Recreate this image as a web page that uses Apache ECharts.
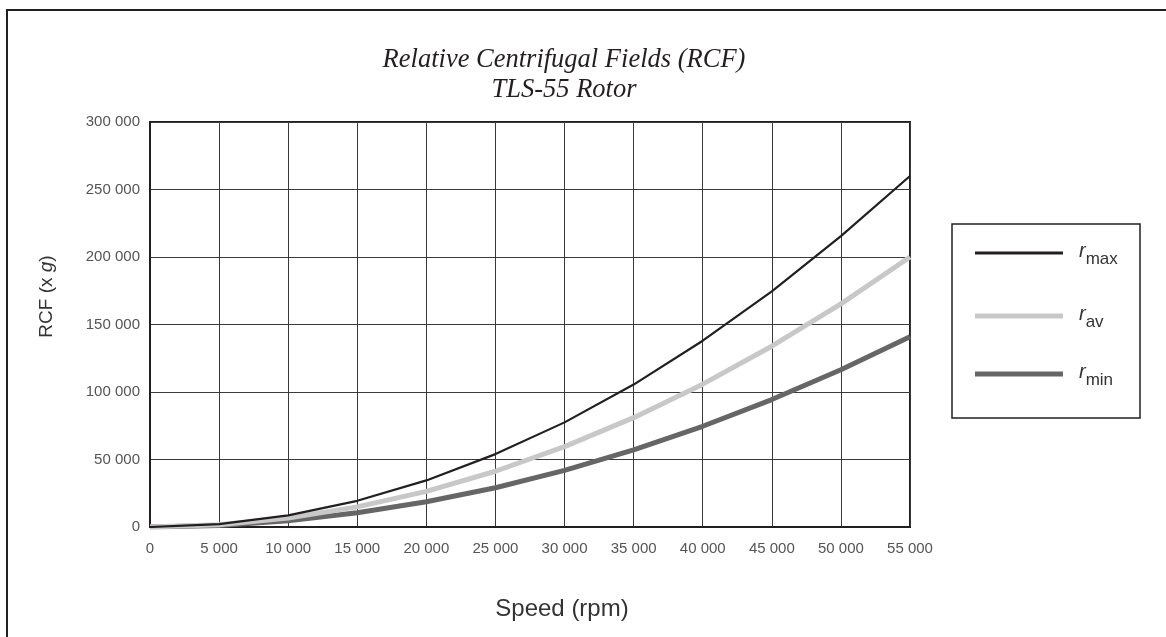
<!DOCTYPE html>
<html><head><meta charset="utf-8">
<script src="https://cdn.jsdelivr.net/npm/echarts@6/dist/echarts.min.js"></script>
<style>html,body{margin:0;padding:0;background:#fff}#c{width:1166px;height:637px}</style>
</head><body><div id="c"></div>
<script>
const speeds = [0,5000,10000,15000,20000,25000,30000,35000,40000,45000,50000,55000];
const rMax = [0,2100,8600,19400,34500,54000,77500,105500,138000,174500,215500,260000];
const rAv  = [0,1650,6600,14900,26400,41300,59500,81000,105800,133900,165300,200000];
const rMin = [0,1170,4660,10500,18650,29100,42000,57100,74600,94400,116500,141000];
const seriesNames = ['max','av','min'];
const fmt = v => { if (v === 0) return '0'; const s = String(v); return s.slice(0, s.length-3) + ' ' + s.slice(-3); };
const pairs = arr => speeds.map((x,i)=>[x, arr[i]]);
const chart = echarts.init(document.getElementById('c'));
const font = "'Liberation Sans', Arial, sans-serif";
const legendText = {rich:{
  i:{fontFamily:font, fontStyle:'italic', fontSize:20, color:'#333', padding:[0,0,4,11]},
  s:{fontFamily:font, fontSize:17, color:'#333', padding:[12,0,0,0]}}};
const mkLegend = (name, top, h, color) => ({
  orient:'vertical', left:970, top:top, itemWidth:88, itemHeight:h, icon:'rect',
  data:[{name:name, itemStyle:{color:color}}],
  formatter: n => '{i|r}{s|' + n + '}', textStyle:legendText});
chart.setOption({
  animation:false,
  backgroundColor:'#fff',
  title:{text:'Relative Centrifugal Fields (RCF)\nTLS-55 Rotor', left:559, top:40, textAlign:'center',
    textStyle:{fontFamily:"'Liberation Serif', 'Times New Roman', serif", fontStyle:'italic', fontWeight:'normal', fontSize:26.5, lineHeight:30, color:'#231f20'}},
  grid:{left:150, right:256, top:122, bottom:110, show:true, borderColor:'#231f20', borderWidth:2, backgroundColor:'transparent'},
  xAxis:{type:'value', min:0, max:55000, interval:5000,
    name:'Speed (rpm)', nameLocation:'middle', nameGap:70,
    nameTextStyle:{fontFamily:font, fontSize:24, color:'#333', padding:[0,0,0,64]},
    axisLine:{show:true, lineStyle:{color:'#231f20', width:2}}, axisTick:{show:false},
    axisLabel:{formatter:fmt, fontFamily:font, fontSize:15, color:'#555', margin:14},
    splitLine:{show:true, lineStyle:{color:'#3a3a3a', width:1}}},
  yAxis:{type:'value', min:0, max:300000, interval:50000,
    name:'{n|RCF (x }{g|g}{n|)}', nameLocation:'middle', nameGap:94, nameRotate:90,
    nameTextStyle:{padding:[0,0,0,56], rich:{n:{fontFamily:font, fontSize:19, color:'#333'}, g:{fontFamily:font, fontSize:19, fontStyle:'italic', color:'#333'}}},
    axisLine:{show:true, lineStyle:{color:'#231f20', width:2}}, axisTick:{show:false},
    axisLabel:{formatter:fmt, fontFamily:font, fontSize:15, color:'#555', margin:10},
    splitLine:{show:true, lineStyle:{color:'#3a3a3a', width:1}}},
  legend:[
    mkLegend('max', 236, 3, '#231f20'),
    mkLegend('av', 299, 5, '#c8c8c8'),
    mkLegend('min', 357, 5, '#666666')
  ],
  graphic:[
    {type:'rect', shape:{x:7, y:10, width:1300, height:800}, style:{fill:'none', stroke:'#231f20', lineWidth:2}, silent:true},
    {type:'rect', shape:{x:952, y:224, width:188, height:194}, style:{fill:'none', stroke:'#231f20', lineWidth:1.5}, silent:true}
  ],
  series:[
    {name:'max', type:'line', data:pairs(rMax), symbol:'none', z:5, lineStyle:{color:'#231f20', width:2.2}, itemStyle:{color:'#231f20'}},
    {name:'av', type:'line', data:pairs(rAv), symbol:'none', z:4, lineStyle:{color:'#c8c8c8', width:5}, itemStyle:{color:'#c8c8c8'}},
    {name:'min', type:'line', data:pairs(rMin), symbol:'none', z:3, lineStyle:{color:'#666666', width:5}, itemStyle:{color:'#666666'}}
  ]
});
</script></body></html>
